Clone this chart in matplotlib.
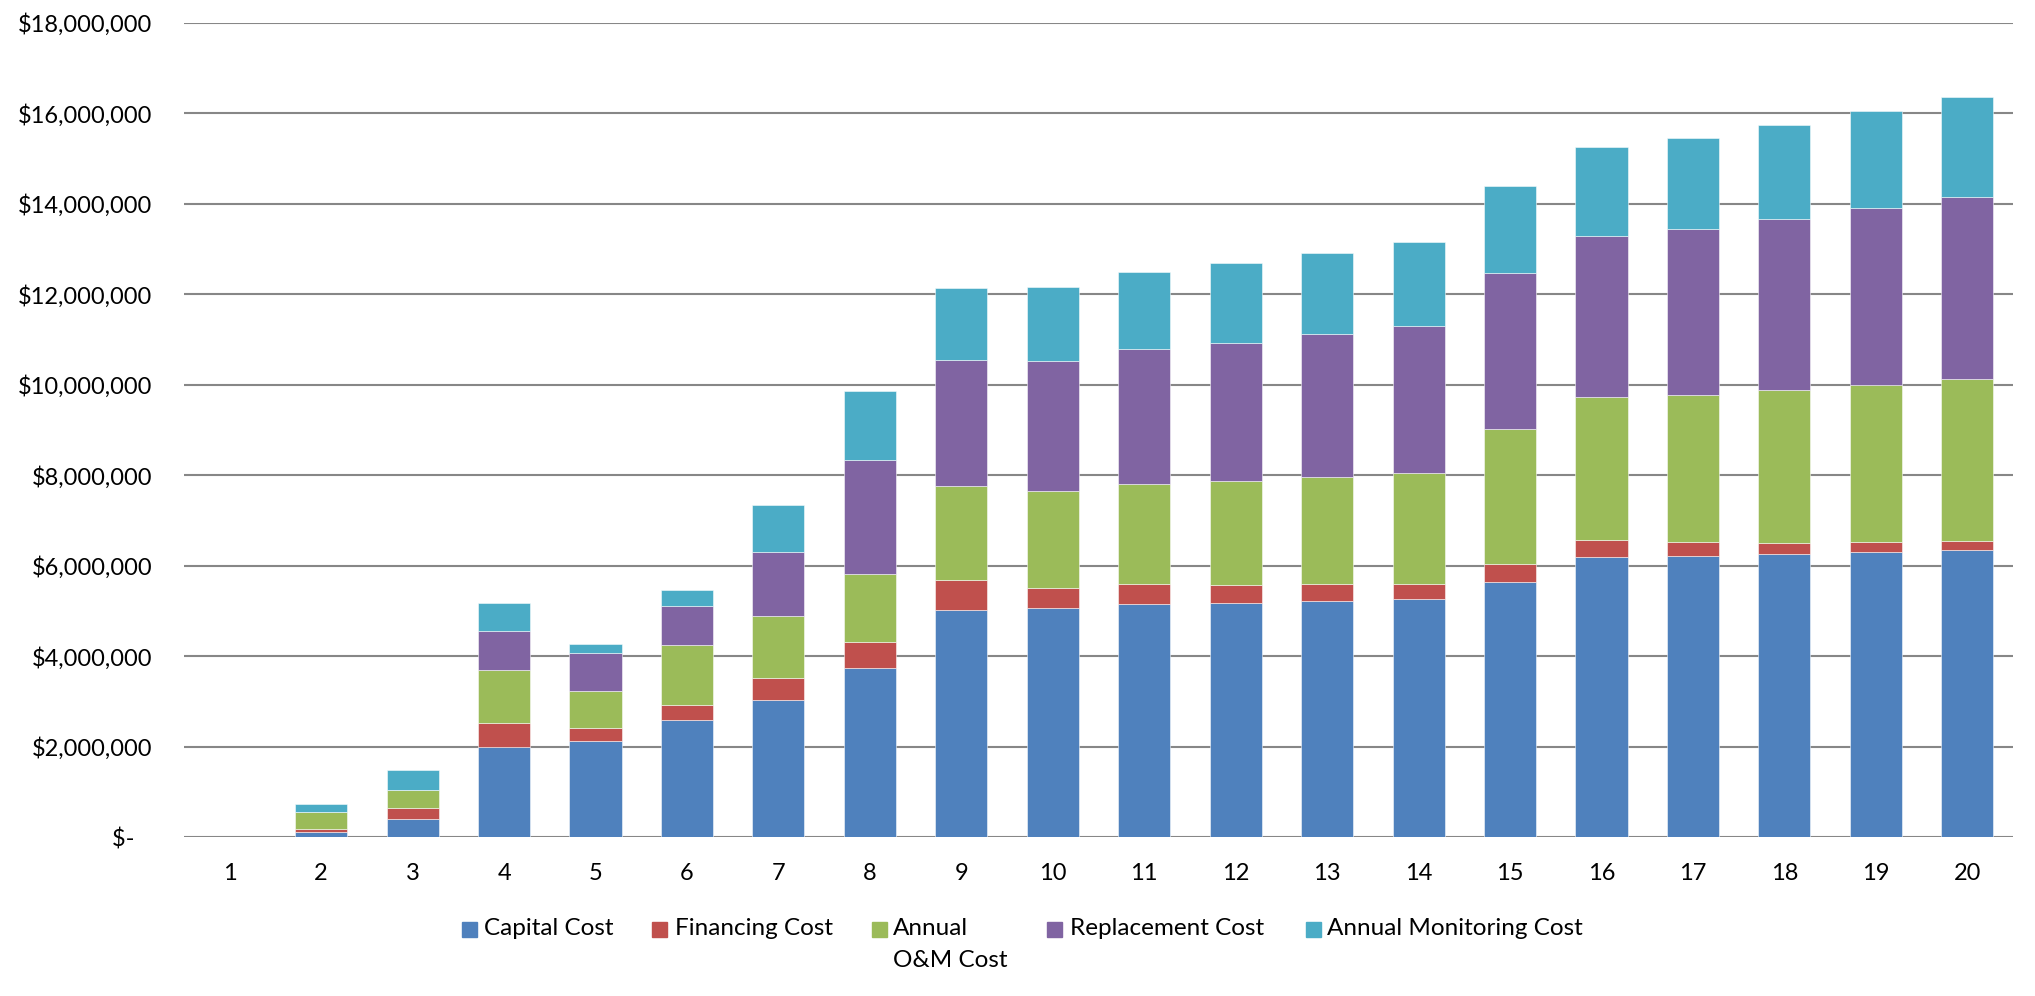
import matplotlib
matplotlib.use("Agg")
import matplotlib.pyplot as plt
from matplotlib.patches import Rectangle
from matplotlib.ticker import FuncFormatter, MultipleLocator
import numpy as np

plt.rcParams['font.family'] = ['Lato', 'DejaVu Sans']

# Cumulative cost per year, in $ millions
years = list(range(1, 21))
capital = [0.00, 0.10, 0.39, 1.99, 2.13, 2.58, 3.03, 3.73, 5.02, 5.06,
           5.15, 5.18, 5.22, 5.26, 5.64, 6.18, 6.22, 6.26, 6.30, 6.35]
financing = [0.00, 0.07, 0.24, 0.52, 0.28, 0.34, 0.49, 0.58, 0.67, 0.45,
             0.45, 0.40, 0.37, 0.33, 0.40, 0.39, 0.29, 0.24, 0.23, 0.19]
om = [0.00, 0.38, 0.40, 1.18, 0.82, 1.32, 1.37, 1.51, 2.06, 2.13,
      2.21, 2.30, 2.36, 2.45, 2.97, 3.16, 3.25, 3.39, 3.47, 3.58]
replacement = [0.00, 0.00, 0.00, 0.86, 0.84, 0.87, 1.42, 2.52, 2.80, 2.89,
               2.98, 3.05, 3.16, 3.25, 3.46, 3.56, 3.68, 3.77, 3.90, 4.03]
monitoring = [0.00, 0.17, 0.45, 0.63, 0.19, 0.34, 1.03, 1.51, 1.59, 1.63,
              1.70, 1.76, 1.81, 1.86, 1.92, 1.97, 2.02, 2.08, 2.14, 2.20]

series = [
    ("Capital Cost", capital, "#4F81BD"),
    ("Financing Cost", financing, "#C0504D"),
    ("Annual\nO&M Cost", om, "#9BBB59"),
    ("Replacement Cost", replacement, "#8064A2"),
    ("Annual Monitoring Cost", monitoring, "#4BACC6"),
]

W, H = 2035, 996
fig = plt.figure(figsize=(W / 100, H / 100), dpi=100)
ax = fig.add_axes([184 / W, 1 - 837 / H, (2013 - 184) / W, (837 - 22.7) / H])

x = np.arange(len(years))
bottom = np.zeros(len(years))
for name, vals, color in series:
    v = np.array(vals) * 1e6
    ax.bar(x, v, width=0.57, bottom=bottom, color=color,
           edgecolor=(1, 1, 1, 0.6), linewidth=0.6, zorder=3)
    bottom += v

ax.set_xlim(-0.5, len(years) - 0.5)
ax.set_ylim(0, 18e6)
ax.yaxis.set_major_locator(MultipleLocator(2e6))
ax.yaxis.set_major_formatter(FuncFormatter(
    lambda val, pos: "$-   " if val == 0 else "${:,.0f}".format(val)))
ax.set_xticks(x)
ax.set_xticklabels([str(y) for y in years])

ax.grid(axis='y', color='#878787', linewidth=1.5, zorder=0)
for s in ax.spines.values():
    s.set_visible(False)
ax.tick_params(axis='both', length=0, labelsize=17, colors='black')
ax.tick_params(axis='y', pad=23)
ax.tick_params(axis='x', pad=19)

# Legend drawn below the axes
marker_x = [462, 652, 872, 1047, 1306]
text_x = [484, 675, 893, 1070, 1327]
for (name, vals, color), mx, tx in zip(series, marker_x, text_x):
    fig.add_artist(Rectangle((mx / W, 1 - 937 / H), 15 / W, 15 / H,
                             transform=fig.transFigure, color=color))
    fig.text(tx / W, 1 - 918 / H, name, fontsize=17.5, va='top', ha='left',
             linespacing=1.65)

fig.savefig("out.png", dpi=100)
